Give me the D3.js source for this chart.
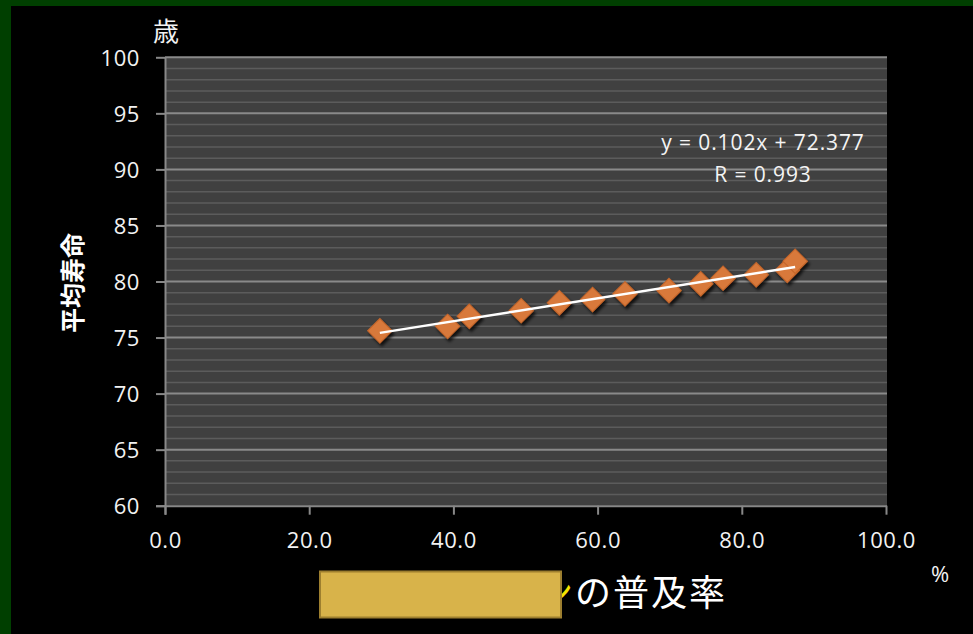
<!DOCTYPE html>
<html>
<head>
<meta charset="utf-8">
<script src="https://cdn.jsdelivr.net/npm/d3@7"></script>
<style>
  html, body { margin: 0; padding: 0; background: #000; }
  svg { display: block; }
</style>
</head>
<body>
<svg id="chart" width="973" height="634"></svg>
<script>
// Diffusion rate (%) and average life expectancy (years)
const usageRate      = [29.8, 39.2, 42.2, 49.4, 54.7, 59.3, 63.8, 69.9, 74.3, 77.4, 82.0, 86.3, 87.4];
const lifeExpectancy = [75.6, 76.0, 76.9, 77.4, 78.1, 78.4, 78.9, 79.2, 79.8, 80.3, 80.6, 81.0, 81.8];

// Trend line coefficients and fit label
const trendSlope = 0.102;
const trendIntercept = 72.377;
const trendLabels = ["y = 0.102x + 72.377", "R = 0.993"];

// Axis ticks
const xTickValues = [0, 20, 40, 60, 80, 100];
const yTickValues = [60, 65, 70, 75, 80, 85, 90, 95, 100];
const yMinorValues = d3.range(61, 100).filter(v => v % 5 !== 0);

const svg = d3.select("#chart");
const W = 973, H = 634;

// background and frame
svg.append("rect").attr("width", W).attr("height", H).attr("fill", "#000");
svg.append("rect").attr("x", 0).attr("y", 0).attr("width", W).attr("height", 6).attr("fill", "#003f00");
svg.append("rect").attr("x", 0).attr("y", 0).attr("width", 11).attr("height", H).attr("fill", "#003f00");

const x = d3.scaleLinear().domain([0, 100]).range([165, 886]);
const y = d3.scaleLinear().domain([60, 100]).range([505.7, 57.3]);

const defs = svg.append("defs");
const shadow = defs.append("filter").attr("id", "markShadow")
  .attr("x", "-50%").attr("y", "-50%").attr("width", "200%").attr("height", "200%");
shadow.append("feDropShadow").attr("dx", 2).attr("dy", 3).attr("stdDeviation", 1.8)
  .attr("flood-color", "#000").attr("flood-opacity", 0.75);

// plot area
svg.append("rect")
  .attr("x", x(0)).attr("y", y(100))
  .attr("width", 887 - x(0)).attr("height", y(60) - y(100))
  .attr("fill", "#404040");

// minor grid
svg.append("g").selectAll("line").data(yMinorValues).join("line")
  .attr("x1", x(0)).attr("x2", 887)
  .attr("y1", d => y(d)).attr("y2", d => y(d))
  .attr("stroke", "#5c5c5c").attr("stroke-width", 1.5);

// major grid
svg.append("g").selectAll("line").data(yTickValues.filter(v => v > 60)).join("line")
  .attr("x1", x(0)).attr("x2", 887)
  .attr("y1", d => y(d)).attr("y2", d => y(d))
  .attr("stroke", "#8a8a8a").attr("stroke-width", 2);

const tickFont = "'Open Sans', 'Noto Sans', sans-serif";

// y axis
const yAxis = svg.append("g")
  .attr("transform", `translate(${x(0)},0)`)
  .call(d3.axisLeft(y).tickValues(yTickValues).tickFormat(d3.format("d")).tickSize(9).tickPadding(16));
// x axis
const xAxis = svg.append("g")
  .attr("transform", `translate(0,${y(60)})`)
  .call(d3.axisBottom(x).tickValues(xTickValues).tickFormat(d3.format(".1f")).tickSize(9).tickPadding(17));

[yAxis, xAxis].forEach(g => {
  g.select(".domain").attr("stroke", "#888").attr("stroke-width", 2);
  g.selectAll(".tick line").attr("stroke", "#888").attr("stroke-width", 2);
  g.selectAll(".tick text")
    .attr("fill", "#f2f2f2")
    .style("font-family", tickFont)
    .style("font-size", "22px")
    .style("letter-spacing", "0.6px");
});
yAxis.selectAll(".tick text").attr("dy", "0.36em");
xAxis.selectAll(".tick text").attr("dy", "0.72em");
// extend the axis lines out to the ticks
xAxis.select(".domain").attr("d", `M${x(0) - 9},0.5H887`);
yAxis.select(".domain").attr("d", `M0.5,${y(100)}V${y(60) + 9}`);

// markers
const pts = usageRate.map((u, i) => ({ u, v: lifeExpectancy[i] }));
svg.append("g").attr("filter", "url(#markShadow)")
  .selectAll("path").data(pts).join("path")
  .attr("d", d3.symbol(d3.symbolSquare, 300))
  .attr("transform", d => `translate(${x(d.u)},${y(d.v)}) rotate(45)`)
  .attr("fill", "#d8793a")
  .attr("stroke", "#c4652a")
  .attr("stroke-width", 1);

// trend line
const xExt = d3.extent(usageRate);
svg.append("line")
  .attr("x1", x(xExt[0])).attr("y1", y(trendSlope * xExt[0] + trendIntercept))
  .attr("x2", x(xExt[1])).attr("y2", y(trendSlope * xExt[1] + trendIntercept))
  .attr("stroke", "#fff").attr("stroke-width", 2.4);

// fit label
svg.append("g").selectAll("text").data(trendLabels).join("text")
  .attr("x", 763).attr("y", (d, i) => 149.5 + i * 32.2)
  .attr("text-anchor", "middle")
  .attr("fill", "#f4f4f4")
  .style("font-family", tickFont)
  .style("font-size", "21px")
  .style("letter-spacing", "0.9px")
  .text(d => d);

// y axis title and unit
svg.append("text")
  .attr("transform", "translate(82,283) rotate(-90)")
  .attr("text-anchor", "middle")
  .attr("fill", "#fff")
  .style("font-family", "'Noto Sans CJK JP', sans-serif")
  .style("font-size", "25px")
  .style("font-weight", "bold")
  .text("平均寿命");

svg.append("text")
  .attr("x", 166).attr("y", 41)
  .attr("text-anchor", "middle")
  .attr("fill", "#f2f2f2")
  .style("font-family", "'Noto Sans CJK JP', sans-serif")
  .style("font-size", "26px")
  .text("歳");

svg.append("text")
  .attr("x", 940).attr("y", 582)
  .attr("text-anchor", "middle")
  .attr("fill", "#f2f2f2")
  .style("font-family", tickFont)
  .style("font-size", "22px")
  .text("%");

// x axis title
const xTitle = svg.append("text")
  .attr("x", 537).attr("y", 606)
  .style("font-family", "'Noto Sans CJK JP', sans-serif")
  .style("font-size", "36px")
  .style("letter-spacing", "2px");
xTitle.append("tspan").attr("fill", "#f5e400").text("ン");
xTitle.append("tspan").attr("fill", "#fff").text("の普及率");

// label patch over the start of the title
svg.append("rect")
  .attr("x", 320).attr("y", 571.5)
  .attr("width", 241).attr("height", 46)
  .attr("fill", "#d8b34a")
  .attr("stroke", "#9d7f2f")
  .attr("stroke-width", 2);
</script>
</body>
</html>
